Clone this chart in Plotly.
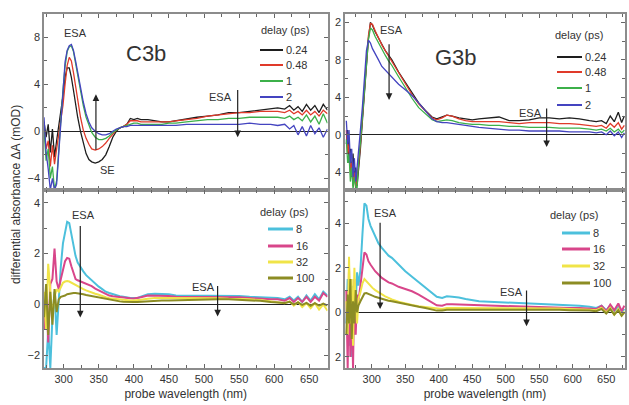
import plotly.graph_objects as go

# ---------------- wavelength grids (nm) ----------------
wl_c3b = [272, 275, 278, 281, 284, 287, 290, 293, 296, 299,
          302, 305, 308, 311, 314, 317, 320, 324, 328, 332,
          336, 340, 345, 350, 355, 360, 365, 370, 375, 380,
          385, 390, 395, 400, 405, 410, 420, 430, 440, 450,
          460, 475, 490, 505, 520, 535, 550, 565, 580, 595,
          605, 615, 622, 628, 634, 640, 646, 652, 658, 664,
          670, 676]

wl_g3b = [262, 264, 266, 268, 270, 272, 274, 276, 278, 280,
          283, 286, 289, 292, 295, 298, 301, 305, 310, 315,
          320, 325, 330, 340, 350, 360, 370, 380, 390, 397,
          405, 412, 420, 430, 440, 450, 460, 475, 490, 505,
          520, 535, 550, 565, 580, 595, 610, 625, 635, 643,
          650, 656, 662, 668, 673, 677]

# ---------------- C3b, early delays (mOD) ----------------
c3b_024 = [0.8, -0.5, 0.6, -1.8, 0.2, -2.2, -0.8, 0.5, 1.5, 3.0,
           4.6, 5.4, 5.4, 4.6, 3.5, 2.3, 1.2, 0.0, -1.1, -1.9,
           -2.4, -2.6, -2.7, -2.6, -2.4, -2.0, -1.3, -0.5, 0.0, 0.3,
           0.4, 0.6, 1.1, 1.0, 1.1, 1.0, 1.0, 0.9, 0.8, 0.8,
           0.9, 1.1, 1.2, 1.3, 1.4, 1.6, 1.6, 1.7, 1.8, 1.9,
           2.0, 1.9, 2.2, 1.8, 2.1, 1.7, 2.3, 1.8, 2.2, 1.6,
           2.3, 1.8]
c3b_048 = [0.5, -1.5, -0.8, -3.0, -1.2, -2.8, -1.5, -0.3, 0.8, 2.2,
           4.0, 5.6, 6.3, 6.0, 5.0, 3.8, 2.6, 1.2, 0.1, -0.6,
           -1.1, -1.5, -1.6, -1.5, -1.3, -1.0, -0.6, -0.2, 0.1, 0.3,
           0.4, 0.6, 0.9, 0.9, 0.9, 0.8, 0.8, 0.8, 0.8, 0.8,
           0.9, 1.0, 1.1, 1.3, 1.4, 1.5, 1.6, 1.6, 1.7, 1.7,
           1.7, 1.6, 1.8, 1.5, 1.7, 1.4, 1.8, 1.4, 1.7, 1.3,
           1.8, 1.5]
c3b_1 = [0.2, -2.5, -1.5, -4.0, -3.0, -5.0, -4.2, -1.5, 1.2, 3.5,
         5.5, 6.8, 7.2, 7.3, 6.8, 5.8, 4.8, 3.4, 2.2, 1.2,
         0.5, -0.1, -0.5, -0.7, -0.7, -0.6, -0.4, -0.1, 0.1, 0.3,
         0.4, 0.5, 0.6, 0.7, 0.7, 0.6, 0.6, 0.6, 0.6, 0.7,
         0.7, 0.8, 0.9, 1.0, 1.0, 1.1, 1.1, 1.2, 1.2, 1.2,
         1.2, 1.1, 1.3, 1.0, 1.2, 0.9, 1.4, 0.8, 1.3, 0.6,
         1.5, 0.7]
c3b_2 = [1.2, -1.8, -3.2, -5.0, -4.0, -5.0, -4.5, -2.0, 1.0, 3.8,
         5.9, 6.9, 7.3, 7.4, 6.9, 6.0, 5.0, 3.7, 2.5, 1.5,
         0.8, 0.3, 0.0, -0.2, -0.3, -0.3, -0.2, 0.0, 0.2, 0.3,
         0.4, 0.4, 0.5, 0.5, 0.5, 0.5, 0.5, 0.5, 0.5, 0.5,
         0.5, 0.6, 0.6, 0.6, 0.6, 0.6, 0.6, 0.7, 0.6, 0.6,
         0.5, 0.6, 0.2, 0.5, -0.3, 0.4, -0.4, 0.5, -0.2, 0.3,
         -0.5, 0.2]

# ---------------- G3b, early delays (mOD) ----------------
g3b_024 = [-1.0, 0.5, -3.0, -1.5, -4.5, -2.0, -5.0, -3.5, -5.5, -4.0,
           -1.5, 1.5, 4.5, 7.5, 10.3, 12.0, 11.7, 11.0, 10.3, 9.6,
           9.0, 8.5, 8.0, 6.7, 5.6, 4.4, 3.4, 2.6, 1.9, 1.7,
           1.9, 2.1, 2.0, 1.8, 1.7, 1.6, 1.7, 1.8, 1.9, 1.5,
           1.5, 1.6, 1.8, 1.8, 1.7, 1.8, 1.7, 1.5, 1.4, 1.5,
           1.2, 2.0, 1.4, 2.4, 1.3, 2.0]
g3b_048 = [0.5, -2.0, -1.0, -4.0, -3.0, -5.5, -4.0, -5.8, -4.5, -3.5,
           -1.0, 2.0, 5.0, 8.0, 10.6, 11.9, 11.8, 11.1, 10.3, 9.6,
           9.0, 8.4, 7.9, 6.6, 5.5, 4.3, 3.3, 2.5, 1.8, 1.6,
           1.8, 2.1, 2.0, 1.7, 1.5, 1.4, 1.4, 1.4, 1.4, 1.3,
           1.2, 1.3, 1.3, 1.3, 1.2, 1.2, 1.1, 1.0, 0.9, 1.0,
           0.7, 1.2, 0.8, 1.3, 0.6, 1.0]
g3b_1 = [-0.5, -3.0, -2.0, -5.0, -3.5, -5.8, -4.5, -5.5, -5.8, -3.0,
         -0.8, 2.0, 5.0, 7.8, 10.2, 11.4, 11.2, 10.5, 9.8, 9.1,
         8.5, 7.9, 7.4, 6.2, 5.0, 3.9, 2.9, 2.2, 1.6, 1.4,
         1.5, 1.6, 1.5, 1.3, 1.2, 1.1, 1.1, 1.0, 1.0, 0.9,
         0.9, 0.8, 0.8, 0.8, 0.7, 0.7, 0.7, 0.6, 0.5, 0.6,
         0.4, 0.7, 0.3, 0.6, 0.2, 0.5]
g3b_2 = [1.5, -1.0, 0.5, -3.0, -1.5, -4.5, -2.5, -5.0, -3.5, -1.5,
         0.5, 3.0, 6.0, 9.0, 10.1, 9.8, 9.2, 8.6, 8.0, 7.3,
         6.9, 6.5, 6.1, 5.4, 4.8, 4.2, 3.4, 2.5, 1.7, 1.4,
         1.3, 1.3, 1.2, 1.1, 1.0, 0.9, 0.8, 0.7, 0.6, 0.5,
         0.5, 0.4, 0.4, 0.4, 0.4, 0.3, 0.3, 0.3, 0.2, 0.3,
         0.0, 0.4, -0.1, 0.3, -0.3, 0.2]

# ---------------- C3b, late delays (mOD) ----------------
c3b_8 = [-2.5, -2.5, -1.0, -2.5, -0.5, 0.5, -1.2, 0.2, 1.5, 2.4,
         2.9, 3.25, 3.2, 2.8, 2.3, 1.9, 1.65, 1.45, 1.3, 1.15,
         1.05, 0.95, 0.8, 0.7, 0.6, 0.5, 0.45, 0.4, 0.35, 0.32,
         0.3, 0.27, 0.25, 0.25, 0.25, 0.3, 0.4, 0.42, 0.4, 0.4,
         0.35, 0.35, 0.35, 0.33, 0.35, 0.35, 0.33, 0.3, 0.28, 0.25,
         0.25, 0.2, 0.3, 0.15, 0.3, 0.1, 0.35, 0.15, 0.4, 0.2,
         0.5, 0.35]
c3b_16 = [-1.0, 0.5, -1.5, 0.8, 1.0, 2.2, 0.9, 0.6, 1.0, 1.4,
          1.7, 1.83, 1.8, 1.5, 1.2, 1.0, 0.95, 0.9, 0.85, 0.8,
          0.75, 0.72, 0.62, 0.55, 0.47, 0.4, 0.35, 0.32, 0.3, 0.3,
          0.27, 0.25, 0.24, 0.23, 0.25, 0.28, 0.35, 0.35, 0.33, 0.33,
          0.3, 0.3, 0.3, 0.3, 0.3, 0.28, 0.28, 0.25, 0.22, 0.2,
          0.2, 0.15, 0.25, 0.1, 0.25, 0.1, 0.3, 0.1, 0.3, 0.15,
          0.45, 0.3]
c3b_32 = [0.5, -1.0, 1.6, 0.4, -0.5, 0.3, 0.6, 0.5, 0.7, 0.85,
          0.9, 0.92, 0.9, 0.85, 0.8, 0.75, 0.7, 0.65, 0.6, 0.55,
          0.5, 0.47, 0.42, 0.38, 0.32, 0.28, 0.24, 0.22, 0.2, 0.18,
          0.17, 0.15, 0.15, 0.15, 0.16, 0.18, 0.22, 0.25, 0.25, 0.25,
          0.25, 0.25, 0.25, 0.25, 0.24, 0.22, 0.22, 0.2, 0.17, 0.12,
          0.1, 0.05, 0.12, -0.05, 0.1, -0.1, 0.05, -0.15, 0.05, -0.2,
          0.0, -0.25]
c3b_100 = [-0.5, 0.8, -1.2, 0.5, -0.8, 0.6, -0.3, 0.2, 0.3, 0.32,
           0.35, 0.4, 0.42, 0.45, 0.45, 0.45, 0.44, 0.42, 0.4, 0.37,
           0.35, 0.33, 0.3, 0.27, 0.24, 0.21, 0.18, 0.15, 0.13, 0.12,
           0.11, 0.1, 0.1, 0.1, 0.1, 0.11, 0.13, 0.15, 0.15, 0.15,
           0.16, 0.18, 0.19, 0.2, 0.2, 0.2, 0.19, 0.17, 0.14, 0.1,
           0.08, 0.06, 0.1, 0.0, 0.08, -0.02, 0.06, -0.05, 0.05, -0.05,
           0.03, -0.05]

# ---------------- G3b, late delays (mOD) ----------------
g3b_8 = [-0.5, 1.5, -1.5, 0.8, -2.0, 1.2, -1.0, 0.5, 1.8, 1.2,
         1.9, 3.5, 4.9, 4.8, 4.2, 3.9, 3.7, 3.4, 3.1, 2.9,
         2.7, 2.55, 2.45, 2.15, 1.85, 1.6, 1.35, 1.1, 0.85, 0.7,
         0.65, 0.72, 0.7, 0.67, 0.6, 0.55, 0.5, 0.48, 0.46, 0.45,
         0.43, 0.42, 0.4, 0.38, 0.35, 0.32, 0.3, 0.25, 0.2, 0.3,
         0.1, 0.3, 0.05, 0.25, 0.0, 0.15]
g3b_16 = [1.0, -2.5, 2.0, -2.0, 0.5, -2.5, 1.5, -1.0, 0.8, 0.5,
          1.2, 2.0, 2.7, 2.6, 2.3, 2.15, 2.0, 1.85, 1.7, 1.55,
          1.45, 1.35, 1.3, 1.15, 1.05, 0.95, 0.8, 0.62, 0.45, 0.32,
          0.3, 0.37, 0.36, 0.35, 0.33, 0.32, 0.3, 0.3, 0.28, 0.27,
          0.26, 0.25, 0.24, 0.22, 0.2, 0.2, 0.2, 0.18, 0.15, 0.3,
          0.05, 0.35, 0.1, 0.4, 0.05, 0.3]
g3b_32 = [0.5, -1.0, 2.5, -0.5, 1.5, -1.5, 2.0, 0.2, -0.5, 0.6,
          0.9, 1.3, 1.5, 1.4, 1.25, 1.15, 1.1, 1.0, 0.9, 0.8,
          0.72, 0.65, 0.58, 0.48, 0.4, 0.33, 0.28, 0.24, 0.2, 0.16,
          0.15, 0.2, 0.2, 0.2, 0.2, 0.2, 0.2, 0.2, 0.2, 0.2,
          0.2, 0.2, 0.2, 0.18, 0.17, 0.15, 0.15, 0.12, 0.1, 0.2,
          0.0, 0.2, -0.1, 0.15, -0.15, 0.05]
g3b_100 = [-1.0, 0.8, -0.5, 1.5, -1.2, 0.5, -0.5, 1.0, 0.0, 0.3,
           0.5, 0.7, 0.85, 0.87, 0.82, 0.78, 0.75, 0.7, 0.65, 0.6,
           0.56, 0.52, 0.5, 0.43, 0.38, 0.32, 0.25, 0.2, 0.13, 0.08,
           0.08, 0.12, 0.12, 0.12, 0.12, 0.12, 0.13, 0.14, 0.15, 0.15,
           0.15, 0.15, 0.14, 0.13, 0.12, 0.1, 0.1, 0.08, 0.05, 0.15,
           -0.05, 0.15, -0.1, 0.1, -0.15, 0.0]

early_labels = ["0.24", "0.48", "1", "2"]
late_labels = ["8", "16", "32", "100"]
early_colors = ["#1e1e1e", "#e03a2a", "#3cb04a", "#4444c0"]
late_colors = ["#4cc0dc", "#d8468a", "#f0e448", "#8c8c24"]

FONT = "Liberation Sans, Arial, sans-serif"
TXT = "#333333"
W, H = 629, 405

fig = go.Figure()

panels = [
    ("x", "y", wl_c3b, [c3b_024, c3b_048, c3b_1, c3b_2], early_labels, early_colors, 1.3),
    ("x2", "y2", wl_g3b, [g3b_024, g3b_048, g3b_1, g3b_2], early_labels, early_colors, 1.3),
    ("x3", "y3", wl_c3b, [c3b_8, c3b_16, c3b_32, c3b_100], late_labels, late_colors, 2.0),
    ("x4", "y4", wl_g3b, [g3b_8, g3b_16, g3b_32, g3b_100], late_labels, late_colors, 2.0),
]
for xa, ya, wl, series, labels, colors, lw in panels:
    for vals, lab, col in zip(series, labels, colors):
        fig.add_trace(go.Scatter(x=wl, y=vals, mode="lines", name=lab,
                                 line=dict(color=col, width=lw),
                                 xaxis=xa, yaxis=ya, showlegend=False))

# panel geometry in pixels
xl = (44 / W, 327.5 / W)
xr = (345 / W, 625 / W)
yt = (1 - 190 / H, 1 - 14 / H)
yb = (1 - 368 / H, 1 - 190 / H)

axcommon = dict(showline=True, linecolor="#8c8c8c", linewidth=1.5, mirror="ticks",
                ticks="inside", ticklen=4, tickcolor="#666", showgrid=False,
                tickfont=dict(family=FONT, size=11, color=TXT))
xcommon = dict(axcommon, dtick=50, tick0=0,
               minor=dict(dtick=25, ticks="inside", ticklen=3, tickcolor="#666"))
ycommon = dict(axcommon, zeroline=True, zerolinecolor="#222", zerolinewidth=1.2)
xtitle = dict(text="probe wavelength (nm)", standoff=6,
              font=dict(family=FONT, size=12, color=TXT))

fig.update_layout(
    width=W, height=H, margin=dict(l=0, r=0, t=0, b=0),
    paper_bgcolor="white", plot_bgcolor="white", showlegend=False,
    font=dict(family=FONT, color=TXT),
    xaxis=dict(xcommon, domain=xl, range=[272, 676], anchor="y", showticklabels=False),
    xaxis2=dict(xcommon, domain=xr, range=[260, 678], anchor="y2", showticklabels=False),
    xaxis3=dict(xcommon, domain=xl, range=[272, 676], anchor="y3", title=xtitle),
    xaxis4=dict(xcommon, domain=xr, range=[260, 678], anchor="y4", title=xtitle),
    yaxis=dict(ycommon, domain=yt, range=[-5, 10], anchor="x",
               tickvals=[-4, 0, 4, 8],
               minor=dict(dtick=2, ticks="inside", ticklen=3, tickcolor="#666")),
    yaxis2=dict(ycommon, domain=yt, range=[-5.9, 12.9], anchor="x2",
                tickvals=[-4, 0, 4, 8, 12], ticktext=["4", "0", "4", "8", "2"],
                minor=dict(dtick=2, ticks="inside", ticklen=3, tickcolor="#666")),
    yaxis3=dict(ycommon, domain=yb, range=[-2.5, 4.5], anchor="x3",
                tickvals=[-2, 0, 2, 4],
                minor=dict(dtick=1, ticks="inside", ticklen=3, tickcolor="#666")),
    yaxis4=dict(ycommon, domain=yb, range=[-2.5, 5.5], anchor="x4",
                tickvals=[-2, 0, 2, 4], ticktext=["2", "0", "2", "4"],
                minor=dict(dtick=1, ticks="inside", ticklen=3, tickcolor="#666")),
)

annots = []
shapes = []

def text(x, y, t, xr_, yr_, size=11):
    annots.append(dict(x=x, y=y, xref=xr_, yref=yr_, text=t, showarrow=False,
                       xanchor="center", yanchor="middle",
                       font=dict(family=FONT, size=size, color=TXT)))

def arrow(x, y_tail, y_head, xr_, yr_):
    annots.append(dict(x=x, y=y_head, ax=x, ay=y_tail, xref=xr_, yref=yr_,
                       axref=xr_, ayref=yr_, text="", showarrow=True,
                       arrowhead=2, arrowsize=1.1, arrowwidth=1.2, arrowcolor="#222"))

# per-panel key: title centre, sample line start/end, row y (pixels)
def key(title_xc, title_y, x0, x1, rows, labels, colors, lw):
    annots.append(dict(x=title_xc / W, y=1 - title_y / H, xref="paper", yref="paper",
                       text="delay (ps)", showarrow=False,
                       xanchor="center", yanchor="middle",
                       font=dict(family=FONT, size=11, color=TXT)))
    for ry, lab, col in zip(rows, labels, colors):
        shapes.append(dict(type="line", xref="paper", yref="paper",
                           x0=x0 / W, x1=x1 / W, y0=1 - ry / H, y1=1 - ry / H,
                           line=dict(color=col, width=lw)))
        annots.append(dict(x=(x1 + 1) / W, y=1 - ry / H, xref="paper", yref="paper",
                           text=lab, showarrow=False, xanchor="left", yanchor="middle",
                           font=dict(family=FONT, size=11, color=TXT)))

key(285, 30, 260, 283, [50, 65, 81, 97], early_labels, early_colors, 2)
key(579, 35, 557, 582, [57, 72, 88, 105], early_labels, early_colors, 2)
key(284, 212, 268, 293, [229, 246, 262, 278], late_labels, late_colors, 3)
key(574, 215, 562, 590, [233, 249, 266, 283], late_labels, late_colors, 3)

# C3b, early delays
text(417, 6.6, "C3b", "x", "y", size=22)
text(316.6, 8.34, "ESA", "x", "y")
text(362, -3.3, "SE", "x", "y")
text(523.6, 2.9, "ESA", "x", "y")
arrow(346, -1.7, 3.15, "x", "y")
arrow(548, 3.66, -0.5, "x", "y")
# G3b, early delays
text(426, 8.2, "G3b", "x2", "y2", size=22)
text(328.8, 11.2, "ESA", "x2", "y2")
text(537.5, 2.3, "ESA", "x2", "y2")
arrow(325.8, 9.83, 3.72, "x2", "y2")
arrow(561, 2.97, -1.32, "x2", "y2")
# C3b, late delays
text(328, 3.53, "ESA", "x3", "y3")
text(499.6, 0.7, "ESA", "x3", "y3")
arrow(323.7, 3.14, -0.51, "x3", "y3")
arrow(519.4, 0.78, -0.47, "x3", "y3")
# G3b, late delays
text(320.6, 4.46, "ESA", "x4", "y4")
text(509, 0.91, "ESA", "x4", "y4")
arrow(312.4, 4.1, 0.15, "x4", "y4")
arrow(531, 1.05, -0.62, "x4", "y4")

# shared y-axis title
annots.append(dict(x=16 / W, y=1 - 195 / H, xref="paper", yref="paper",
                   text="differential absorbance \u0394A (mOD)", textangle=-90,
                   xanchor="center", yanchor="middle",
                   showarrow=False, font=dict(family=FONT, size=12, color=TXT)))
fig.update_layout(annotations=annots, shapes=shapes)

fig.write_html("out.html")
